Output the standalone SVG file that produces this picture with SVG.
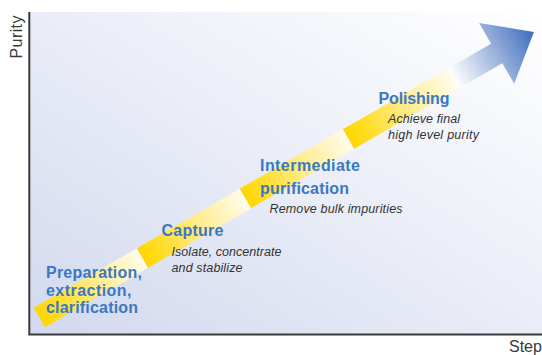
<svg xmlns="http://www.w3.org/2000/svg" width="542" height="355" viewBox="0 0 542 355">
<defs>
<style>
.lbl{font-family:"Liberation Sans",Arial,sans-serif;font-weight:bold;font-size:16px;fill:#3a78c2}
.desc{font-family:"Liberation Sans",Arial,sans-serif;font-style:italic;font-size:12.5px;fill:#333}
.axis{font-family:"Liberation Sans",Arial,sans-serif;font-size:16px;fill:#3a3a3a}
</style>
<linearGradient id="bg" x1="0" y1="1" x2="1" y2="0">
<stop offset="0" stop-color="#d2d9ee"/>
<stop offset="0.55" stop-color="#eceff8"/>
<stop offset="1" stop-color="#ffffff"/>
</linearGradient>
<linearGradient id="yel" x1="0" y1="0" x2="1" y2="0">
<stop offset="0" stop-color="#ffd600"/>
<stop offset="0.15" stop-color="#ffdc20"/>
<stop offset="0.55" stop-color="#ffec8c"/>
<stop offset="1" stop-color="#fffcec"/>
</linearGradient>
<linearGradient id="blu" gradientUnits="userSpaceOnUse" x1="478" y1="0" x2="571" y2="0">
<stop offset="0" stop-color="#ffffff"/>
<stop offset="1" stop-color="#3f6cbd"/>
</linearGradient>
</defs>
<rect width="542" height="355" fill="#ffffff"/>
<rect x="29" y="12" width="513" height="323" fill="url(#bg)"/>
<g id="axes" stroke="#3a3a3a" stroke-width="2" fill="none">
<path d="M29.3 12 V334.5 H542"/>
</g>
<text class="axis" transform="translate(21.5,37) rotate(-90)" text-anchor="middle" textLength="43">Purity</text>
<text class="axis" x="509" y="352">Step</text>
<g id="connectors">
<g id="arrow" transform="translate(39.4,317.4) rotate(-30)">
<rect x="0" y="-11.25" width="119" height="22.5" fill="url(#yel)"/>
<rect x="119" y="-11.25" width="119" height="22.5" fill="url(#yel)"/>
<rect x="238" y="-11.25" width="119" height="22.5" fill="url(#yel)"/>
<rect x="357" y="-11.25" width="121" height="22.5" fill="url(#yel)"/>
<path d="M478 -11.25 H528 V-35 L571 0 L528 35 V11.25 H478 Z" fill="url(#blu)"/>
</g>
</g>
<g id="prep">
<text class="lbl" x="46" y="278" textLength="96">Preparation,</text>
<text class="lbl" x="46" y="295.5" textLength="85.5">extraction,</text>
<text class="lbl" x="46" y="313" textLength="92">clarification</text>
</g>
<g id="capture">
<text class="lbl" x="161.5" y="236" textLength="62">Capture</text>
<text class="desc" x="171.5" y="256" textLength="110">Isolate, concentrate</text>
<text class="desc" x="171.5" y="272" textLength="71">and stabilize</text>
</g>
<g id="intermediate">
<text class="lbl" x="260" y="170.5" textLength="100">Intermediate</text>
<text class="lbl" x="260" y="193.5" textLength="89">purification</text>
<text class="desc" x="269.5" y="213" textLength="133">Remove bulk impurities</text>
</g>
<g id="polishing">
<text class="lbl" x="378.5" y="103.5" textLength="71">Polishing</text>
<text class="desc" x="388" y="123" textLength="72">Achieve final</text>
<text class="desc" x="388" y="138.5" textLength="91">high level purity</text>
</g>
</svg>
